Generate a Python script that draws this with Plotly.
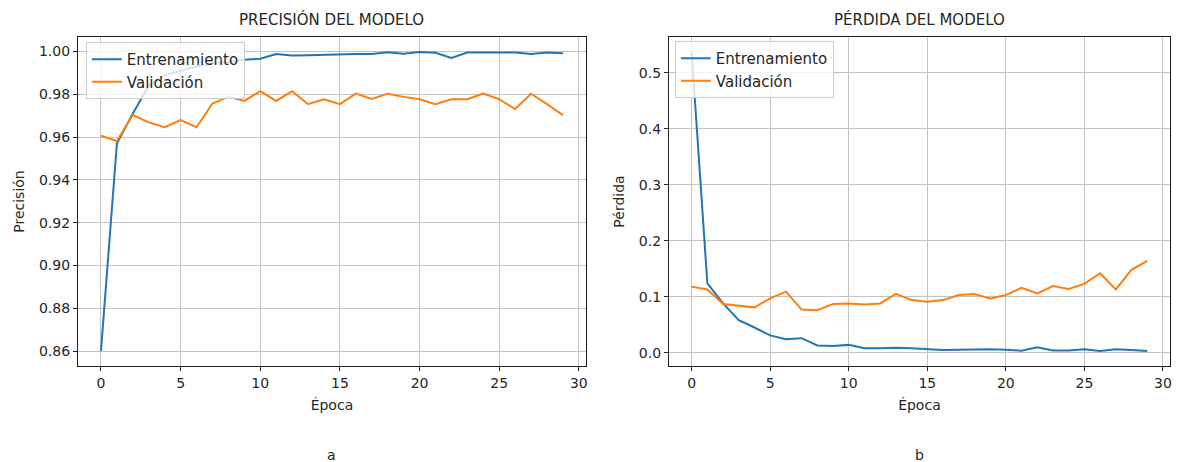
import plotly.graph_objects as go

# Training history (30 epochs)
epochs = list(range(30))

train_acc = [0.860, 0.957, 0.971, 0.984, 0.989, 0.991, 0.993, 0.9945, 0.995, 0.9962,
             0.9966, 0.9988, 0.9982, 0.9983, 0.9985, 0.9989, 0.9989, 0.9989, 0.9997, 0.9990,
             0.9998, 0.9994, 0.9970, 0.9995, 0.9995, 0.9995, 0.9995, 0.9989, 0.9995, 0.9992]
val_acc = [0.9606, 0.9582, 0.9703, 0.9669, 0.9646, 0.9680, 0.9646, 0.9757, 0.9788, 0.9769,
           0.9815, 0.9769, 0.9815, 0.9754, 0.9777, 0.9754, 0.9803, 0.9778, 0.9803, 0.9788,
           0.9777, 0.9754, 0.9777, 0.9777, 0.9803, 0.9777, 0.9731, 0.9803, 0.9754, 0.9703]

train_loss = [0.537, 0.124, 0.088, 0.058, 0.045, 0.031, 0.024, 0.026, 0.013, 0.012,
              0.014, 0.008, 0.008, 0.009, 0.008, 0.0066, 0.005, 0.0054, 0.006, 0.006,
              0.0054, 0.0036, 0.0096, 0.004, 0.004, 0.006, 0.003, 0.006, 0.005, 0.003]
val_loss = [0.118, 0.113, 0.087, 0.084, 0.081, 0.097, 0.109, 0.077, 0.076, 0.087,
            0.088, 0.086, 0.088, 0.105, 0.094, 0.091, 0.094, 0.103, 0.105, 0.097,
            0.103, 0.116, 0.106, 0.119, 0.114, 0.123, 0.142, 0.113, 0.148, 0.164]

series_names = ["Entrenamiento", "Validación"]
titles = ["PRECISIÓN DEL MODELO", "PÉRDIDA DEL MODELO"]
y_titles = ["Precisión", "Pérdida"]
x_title = "Época"
captions = ["a", "b"]

BLUE = "#1f77b4"
ORANGE = "#ff7f0e"
FONT = "DejaVu Sans"
TXT = "#262626"
W, H = 1180, 462


def padded(vals, frac=0.05):
    lo, hi = min(vals), max(vals)
    d = (hi - lo) * frac
    return [lo - d, hi + d]


fig = go.Figure()

fig.add_trace(go.Scatter(x=epochs, y=train_acc, name=series_names[0], mode="lines",
                         line=dict(color=BLUE, width=2), xaxis="x", yaxis="y", legend="legend"))
fig.add_trace(go.Scatter(x=epochs, y=val_acc, name=series_names[1], mode="lines",
                         line=dict(color=ORANGE, width=2), xaxis="x", yaxis="y", legend="legend"))
fig.add_trace(go.Scatter(x=epochs, y=train_loss, name=series_names[0], mode="lines",
                         line=dict(color=BLUE, width=2), xaxis="x2", yaxis="y2", legend="legend2"))
fig.add_trace(go.Scatter(x=epochs, y=val_loss, name=series_names[1], mode="lines",
                         line=dict(color=ORANGE, width=2), xaxis="x2", yaxis="y2", legend="legend2"))

# plot-area boxes in pixels
left_box = (78, 587)
right_box = (670, 1172)
top_px, bottom_px = 37, 366
ydom = [1 - bottom_px / H, 1 - top_px / H]

axis_common = dict(
    showline=True, mirror=True, linecolor="#222222", linewidth=1,
    ticks="outside", ticklen=4, tickwidth=1, tickcolor="#222222",
    showgrid=True, gridcolor="#c4c4c4", gridwidth=1, zeroline=False,
    tickfont=dict(family=FONT, size=14, color=TXT),
)
title_font = dict(family=FONT, size=14, color=TXT)

xrange = padded(epochs)

legend_common = dict(
    bgcolor="rgba(255,255,255,0.8)", bordercolor="#cccccc", borderwidth=1,
    font=dict(family=FONT, size=15, color=TXT), xanchor="left", yanchor="top",
    itemwidth=30, tracegroupgap=0,
)

fig.update_layout(
    width=W, height=H, margin=dict(l=0, r=0, t=0, b=0),
    paper_bgcolor="white", plot_bgcolor="white",
    font=dict(family=FONT, color=TXT),
    xaxis=dict(domain=[left_box[0] / W, left_box[1] / W], range=xrange, dtick=5, tick0=0,
               anchor="y", title=dict(text=x_title, font=title_font, standoff=10),
               **axis_common),
    yaxis=dict(domain=ydom, range=padded(train_acc + val_acc), dtick=0.02, tick0=0.86,
               tickformat=".2f", anchor="x",
               title=dict(text=y_titles[0], font=title_font, standoff=10),
               **axis_common),
    xaxis2=dict(domain=[right_box[0] / W, right_box[1] / W], range=xrange, dtick=5, tick0=0,
                anchor="y2", title=dict(text=x_title, font=title_font, standoff=10),
                **axis_common),
    yaxis2=dict(domain=ydom, range=padded(train_loss + val_loss), dtick=0.1, tick0=0,
                tickformat=".1f", anchor="x2",
                title=dict(text=y_titles[1], font=title_font, standoff=10),
                **axis_common),
    legend=dict(x=86 / W, y=1 - 42 / H, **legend_common),
    legend2=dict(x=676 / W, y=1 - 41 / H, **legend_common),
    showlegend=True,
)

# subplot titles and captions
for box, title, cap in zip([left_box, right_box], titles, captions):
    cx = (box[0] + box[1]) / 2 / W
    fig.add_annotation(x=cx, y=1 - 20 / H, xref="paper", yref="paper", text=title,
                       showarrow=False, font=dict(family=FONT, size=15, color=TXT),
                       xanchor="center", yanchor="middle")
    fig.add_annotation(x=cx, y=1 - 455 / H, xref="paper", yref="paper", text=cap,
                       showarrow=False, font=dict(family=FONT, size=14, color=TXT),
                       xanchor="center", yanchor="middle")

fig.write_html("out.html")
